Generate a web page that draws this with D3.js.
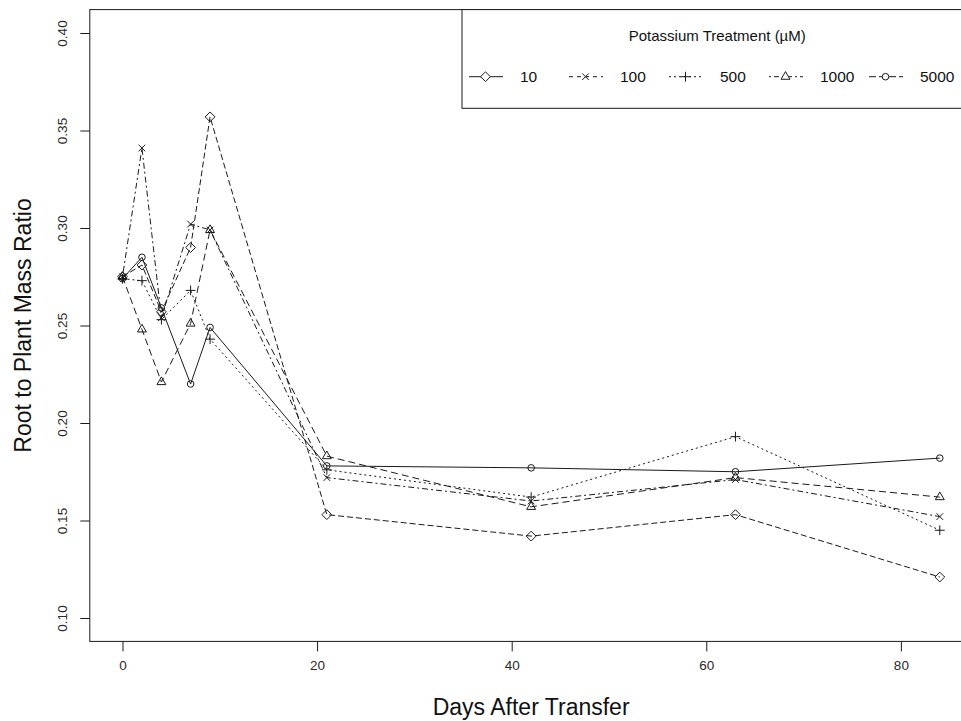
<!DOCTYPE html>
<html>
<head>
<meta charset="utf-8">
<script src="https://cdn.jsdelivr.net/npm/d3@7"></script>
<style>
  html, body { margin: 0; padding: 0; background: #fff; }
  svg { display: block; font-family: "Liberation Sans", Arial, sans-serif; }
</style>
</head>
<body>
<svg id="chart" width="961" height="721"></svg>
<script>
// Sampling days after transfer
const days = [0, 2, 4, 7, 9, 21, 42, 63, 84];

// Root to plant mass ratio for each potassium treatment (µM)
const treatments = ["10", "100", "500", "1000", "5000"];
const ratioK10   = [0.275, 0.281, 0.257, 0.290, 0.357, 0.153, 0.142, 0.153, 0.121];
const ratioK100  = [0.275, 0.341, 0.254, 0.302, 0.299, 0.172, 0.160, 0.171, 0.152];
const ratioK500  = [0.274, 0.273, 0.253, 0.268, 0.243, 0.176, 0.162, 0.193, 0.145];
const ratioK1000 = [0.275, 0.248, 0.221, 0.251, 0.299, 0.183, 0.157, 0.172, 0.162];
const ratioK5000 = [0.274, 0.285, 0.259, 0.220, 0.249, 0.178, 0.177, 0.175, 0.182];

const xTicks = [0, 20, 40, 60, 80];
const yTicks = [0.10, 0.15, 0.20, 0.25, 0.30, 0.35, 0.40];
const yLimits = [0.10, 0.40];

const seriesValues = [ratioK10, ratioK100, ratioK500, ratioK1000, ratioK5000];
const seriesShapes = ["diamond", "cross", "plus", "triangle", "circle"];
// dash patterns of the plotted lines and of the legend keys
const plotDash   = ["6,3", "2,3,6,3", "2,3", "7,4", null];
const legendDash = [null, "4,4", "2,3", "2,3,5,3", "7,3"];

const W = 961, H = 721;
const margin = { top: 9.6, right: -11.5, bottom: 79.6, left: 89.8 };
const svg = d3.select("#chart");

// 4% padding on both axes, as base graphics does
const xExt = d3.extent(days);
const xPad = (xExt[1] - xExt[0]) * 0.04;
const yPad = (yLimits[1] - yLimits[0]) * 0.04;
const x = d3.scaleLinear().domain([xExt[0] - xPad, xExt[1] + xPad])
  .range([margin.left, W - margin.right]);
const y = d3.scaleLinear().domain([yLimits[0] - yPad, yLimits[1] + yPad])
  .range([H - margin.bottom, margin.top]);

const ink = "#1a1a1a";

// y axis with rotated labels
const yAxis = svg.append("g")
  .attr("transform", `translate(${margin.left},0)`)
  .call(d3.axisLeft(y).tickValues(yTicks).tickSize(9.5).tickFormat(d3.format(".2f")));
yAxis.select(".domain").remove();
yAxis.selectAll(".tick line").attr("stroke", ink);
yAxis.selectAll(".tick text")
  .attr("transform", "rotate(-90)")
  .attr("x", 0).attr("y", -22.8).attr("dy", null)
  .attr("text-anchor", "middle")
  .attr("fill", "#2a2a2a")
  .style("font-size", "13.5px")
  .style("font-family", "'Liberation Sans', Arial, sans-serif");

// x axis
const xAxis = svg.append("g")
  .attr("transform", `translate(0,${H - margin.bottom})`)
  .call(d3.axisBottom(x).tickValues(xTicks).tickSize(10).tickFormat(d3.format("d")));
xAxis.select(".domain").remove();
xAxis.selectAll(".tick line").attr("stroke", ink);
xAxis.selectAll(".tick text")
  .attr("y", 28.6).attr("dy", null)
  .attr("fill", "#2a2a2a")
  .style("font-size", "13.5px")
  .style("font-family", "'Liberation Sans', Arial, sans-serif");

// axis titles
svg.append("text")
  .attr("x", (x.range()[0] + x.range()[1]) / 2).attr("y", 715)
  .attr("text-anchor", "middle").attr("fill", "#111")
  .style("font-size", "23px")
  .text("Days After Transfer");
svg.append("text")
  .attr("transform", `translate(30.5,${(y.range()[0] + y.range()[1]) / 2}) rotate(-90)`)
  .attr("text-anchor", "middle").attr("fill", "#111")
  .style("font-size", "23px")
  .text("Root to Plant Mass Ratio");

// marker symbols (open)
const R = 3.3;
function symbolPath(shape) {
  switch (shape) {
    case "circle":
      return `M${R},0A${R},${R} 0 1,1 ${-R},0A${R},${R} 0 1,1 ${R},0Z`;
    case "diamond": {
      const d = R * Math.SQRT2 * 1.05;
      return `M0,${-d}L${d},0L0,${d}L${-d},0Z`;
    }
    case "plus": {
      const d = R * Math.SQRT2 * 1.05;
      return `M${-d},0H${d}M0,${-d}V${d}`;
    }
    case "cross": {
      const d = R;
      return `M${-d},${-d}L${d},${d}M${-d},${d}L${d},${-d}`;
    }
    case "triangle": {
      const r = 1.5551 * R, xc = 1.3468 * R, yc = 0.7776 * R;
      return `M0,${-r}L${xc},${yc}L${-xc},${yc}Z`;
    }
  }
}

const line = d3.line().x(d => x(d[0])).y(d => y(d[1]));
const plot = svg.append("g");

seriesValues.forEach((vals, i) => {
  const pts = days.map((d, j) => [d, vals[j]]);
  plot.append("path")
    .attr("d", line(pts))
    .attr("fill", "none")
    .attr("stroke", ink)
    .attr("stroke-width", 1)
    .attr("stroke-dasharray", plotDash[i]);
});
seriesValues.forEach((vals, i) => {
  const pts = days.map((d, j) => [d, vals[j]]);
  plot.selectAll(null).data(pts).enter().append("path")
    .attr("transform", d => `translate(${x(d[0])},${y(d[1])})`)
    .attr("d", symbolPath(seriesShapes[i]))
    .attr("fill", "none")
    .attr("stroke", ink)
    .attr("stroke-width", 1);
});

// plot frame
svg.append("rect")
  .attr("x", x.range()[0]).attr("y", y.range()[1])
  .attr("width", x.range()[1] - x.range()[0])
  .attr("height", y.range()[0] - y.range()[1])
  .attr("fill", "none").attr("stroke", ink).attr("stroke-width", 1);

// legend, placed at the top right corner of the plot
const legLeft = 462, legBottom = 108.3;
const leg = svg.append("g");
leg.append("rect")
  .attr("x", legLeft).attr("y", y.range()[1])
  .attr("width", x.range()[1] - legLeft)
  .attr("height", legBottom - y.range()[1])
  .attr("fill", "#fff").attr("stroke", ink).attr("stroke-width", 1);
leg.append("text")
  .attr("x", (legLeft + x.range()[1]) / 2).attr("y", 40.6)
  .attr("text-anchor", "middle").attr("fill", "#111")
  .style("font-size", "15px")
  .text("Potassium Treatment (\u00b5M)");

const keyStep = 100, keyStart = 469, keyY = 76.7;
treatments.forEach((t, i) => {
  const x0 = keyStart + i * keyStep;
  const g = leg.append("g").attr("transform", `translate(${x0},${keyY})`);
  g.append("line")
    .attr("x1", 0).attr("x2", 34).attr("y1", 0).attr("y2", 0)
    .attr("stroke", ink).attr("stroke-width", 1)
    .attr("stroke-dasharray", legendDash[i]);
  g.append("path")
    .attr("transform", "translate(16.5,0)")
    .attr("d", symbolPath(seriesShapes[i]))
    .attr("fill", "#fff").attr("stroke", ink).attr("stroke-width", 1);
  g.append("text")
    .attr("x", 51).attr("y", 5.6)
    .attr("fill", "#111")
    .style("font-size", "15.5px")
    .text(t);
});
</script>
</body>
</html>
